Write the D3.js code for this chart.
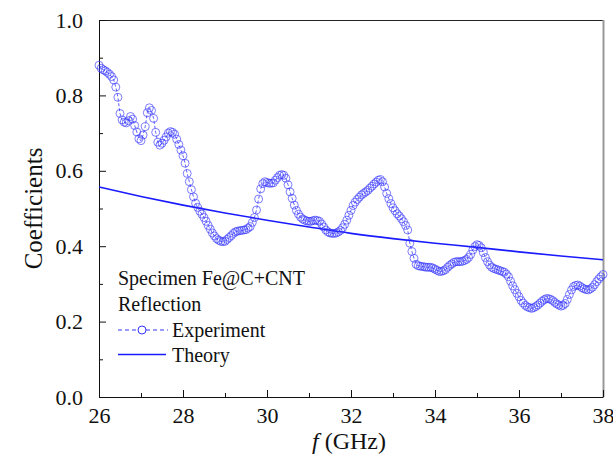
<!DOCTYPE html>
<html>
<head>
<meta charset="utf-8">
<script src="https://cdn.jsdelivr.net/npm/d3@7"></script>
<style>
  html, body { margin: 0; padding: 0; background: #fff; }
  svg { display: block; }
  svg text { font-family: "Liberation Serif", "Times New Roman", serif; fill: #111; }
</style>
</head>
<body>
<svg id="chart" width="613" height="457"></svg>
<script>
// ---- data ----
const freqStart = 26;
const freqStep = 0.05;
const experiment = [
  0.880,0.872,0.868,0.865,0.861,0.856,0.850,0.841,0.822,0.795,
  0.752,0.735,0.729,0.727,0.733,0.744,0.737,0.720,0.703,0.685,
  0.680,0.695,0.717,0.754,0.767,0.760,0.739,0.702,0.676,0.668,
  0.673,0.681,0.690,0.700,0.704,0.702,0.697,0.684,0.670,0.655,
  0.640,0.620,0.593,0.571,0.550,0.531,0.514,0.503,0.493,0.485,
  0.476,0.466,0.455,0.445,0.435,0.427,0.420,0.416,0.413,0.412,
  0.413,0.418,0.423,0.428,0.434,0.438,0.440,0.441,0.442,0.443,
  0.444,0.448,0.452,0.463,0.476,0.496,0.525,0.552,0.566,0.571,
  0.569,0.567,0.567,0.568,0.575,0.582,0.588,0.590,0.588,0.580,
  0.563,0.544,0.527,0.509,0.495,0.485,0.477,0.472,0.469,0.467,
  0.466,0.466,0.468,0.469,0.468,0.466,0.459,0.451,0.443,0.438,
  0.435,0.434,0.434,0.435,0.438,0.442,0.449,0.458,0.469,0.482,
  0.495,0.508,0.517,0.524,0.530,0.536,0.540,0.544,0.548,0.554,
  0.559,0.565,0.570,0.575,0.577,0.571,0.557,0.540,0.526,0.513,
  0.502,0.494,0.486,0.480,0.473,0.465,0.455,0.443,0.408,0.386,
  0.368,0.352,0.348,0.347,0.346,0.345,0.344,0.344,0.344,0.342,
  0.339,0.336,0.333,0.333,0.335,0.338,0.344,0.349,0.353,0.357,
  0.359,0.359,0.359,0.360,0.362,0.365,0.370,0.378,0.390,0.399,
  0.404,0.402,0.396,0.383,0.370,0.359,0.350,0.344,0.341,0.339,
  0.337,0.335,0.333,0.331,0.326,0.319,0.307,0.295,0.285,0.275,
  0.266,0.256,0.249,0.243,0.239,0.237,0.235,0.237,0.240,0.244,
  0.249,0.254,0.258,0.261,0.261,0.259,0.256,0.251,0.247,0.244,
  0.241,0.243,0.248,0.259,0.272,0.284,0.293,0.296,0.297,0.294,
  0.290,0.287,0.285,0.284,0.287,0.291,0.298,0.306,0.313,0.319,
  0.325
];
const theoryFreq  = [26, 27, 28, 29, 30, 31, 32, 33, 34, 35, 36, 37, 38];
const theoryValue = [0.557,0.532,0.509,0.488,0.469,0.451,0.434,0.420,0.408,0.397,0.385,0.374,0.364];
const xTicks = [26, 28, 30, 32, 34, 36, 38];
const xMinorTicks = [27, 29, 31, 33, 35, 37];
const yTicks = [0, 0.2, 0.4, 0.6, 0.8, 1.0];
const yMinorTicks = [0.1, 0.3, 0.5, 0.7, 0.9];
const legendTitle = ["Specimen Fe@C+CNT", "Reflection"];
const legendItems = ["Experiment", "Theory"];

// ---- layout ----
const FONT = '"Liberation Serif", "Times New Roman", serif';
const svg = d3.select("#chart");
const L = 99, R = 603, T = 20, B = 397;
const x = d3.scaleLinear().domain([26, 38]).range([L, R]);
const y = d3.scaleLinear().domain([0, 1]).range([B, T]);
const blue = "#3434ff";

const expData = experiment.map((v, i) => ({ f: freqStart + i * freqStep, v }));
const theoryData = theoryFreq.map((f, i) => ({ f, v: theoryValue[i] }));

// frame: top + right
svg.append("line").attr("x1", L).attr("x2", R).attr("y1", T + 0.5).attr("y2", T + 0.5)
  .attr("stroke", "#222").attr("stroke-width", 1);
svg.append("line").attr("x1", R + 0.5).attr("x2", R + 0.5).attr("y1", T).attr("y2", B)
  .attr("stroke", "#999").attr("stroke-width", 2);

// axes
const xAxis = d3.axisBottom(x).tickValues(xTicks).tickFormat(d3.format("d"))
  .tickSizeInner(-7).tickSizeOuter(0).tickPadding(10);
const gx = svg.append("g").attr("transform", `translate(0,${B})`).call(xAxis)
  .attr("font-family", FONT).attr("font-size", 22);
gx.selectAll("text").attr("dy", "0.71em").attr("fill", "#111");
const xMinor = d3.axisBottom(x).tickValues(xMinorTicks).tickFormat("").tickSizeInner(-4).tickSizeOuter(0);
svg.append("g").attr("transform", `translate(0,${B})`).call(xMinor).select(".domain").remove();

const yAxis = d3.axisLeft(y).tickValues(yTicks).tickFormat(d3.format(".1f"))
  .tickSizeInner(-7).tickSizeOuter(0).tickPadding(16);
const gy = svg.append("g").attr("transform", `translate(${L},0)`).call(yAxis)
  .attr("font-family", FONT).attr("font-size", 22);
gy.selectAll("text").attr("fill", "#111");
const yMinor = d3.axisLeft(y).tickValues(yMinorTicks).tickFormat("").tickSizeInner(-4).tickSizeOuter(0);
svg.append("g").attr("transform", `translate(${L},0)`).call(yMinor).select(".domain").remove();

svg.selectAll(".domain").attr("stroke", "#111");
svg.selectAll(".tick line").attr("stroke", "#111");

// axis titles
svg.append("text").attr("transform", `translate(42,${(T + B) / 2}) rotate(-90)`)
  .attr("text-anchor", "middle").attr("font-size", 25).text("Coefficients");
const xt = svg.append("text").attr("x", 349).attr("y", 449).attr("text-anchor", "middle").attr("font-size", 24);
xt.append("tspan").attr("font-style", "italic").text("f");
xt.append("tspan").text(" (GHz)");

// theory line
svg.append("path").datum(theoryData)
  .attr("d", d3.line().x(d => x(d.f)).y(d => y(d.v)).curve(d3.curveMonotoneX))
  .attr("fill", "none").attr("stroke", "#1a1aff").attr("stroke-width", 1.6);

// experiment dashed line + markers
svg.append("path").datum(expData)
  .attr("d", d3.line().x(d => x(d.f)).y(d => y(d.v)))
  .attr("fill", "none").attr("stroke", blue).attr("stroke-width", 0.8).attr("stroke-dasharray", "3,2");
svg.append("g").selectAll("circle").data(expData).join("circle")
  .attr("cx", d => x(d.f)).attr("cy", d => y(d.v)).attr("r", 4)
  .attr("fill", "none").attr("stroke", blue).attr("stroke-width", 0.8).attr("stroke-opacity", 0.8);

// legend
const lg = svg.append("g");
legendTitle.forEach((t, i) => {
  lg.append("text").attr("x", 118).attr("y", 285 + i * 25.5).attr("font-size", 20).text(t);
});
lg.append("line").attr("x1", 118).attr("x2", 168).attr("y1", 330).attr("y2", 330)
  .attr("stroke", blue).attr("stroke-width", 1).attr("stroke-dasharray", "4,3");
lg.append("circle").attr("cx", 142).attr("cy", 330).attr("r", 4)
  .attr("fill", "#fff").attr("stroke", blue).attr("stroke-width", 1);
lg.append("line").attr("x1", 118).attr("x2", 166).attr("y1", 354.5).attr("y2", 354.5)
  .attr("stroke", "#1a1aff").attr("stroke-width", 1.6);
legendItems.forEach((t, i) => {
  lg.append("text").attr("x", 172).attr("y", 336.5 + i * 25).attr("font-size", 20).text(t);
});
</script>
</body>
</html>
